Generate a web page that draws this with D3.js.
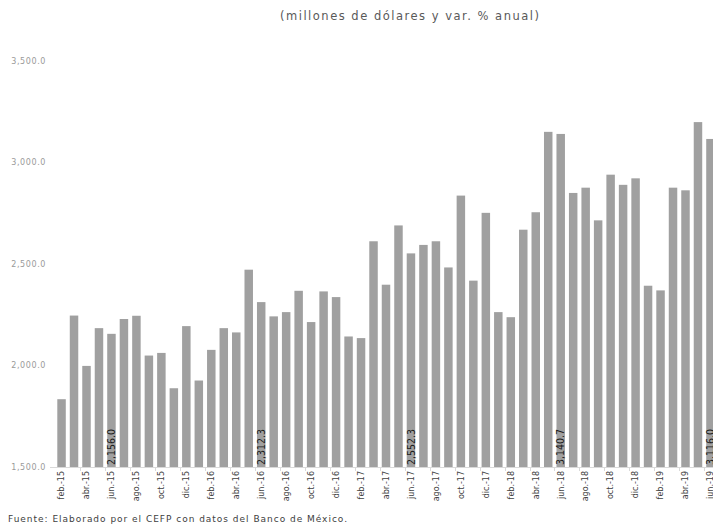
<!DOCTYPE html>
<html><head><meta charset="utf-8">
<script src="https://cdn.jsdelivr.net/npm/d3@7"></script>
<style>body{margin:0;background:#fff}svg{display:block}</style>
</head><body>
<svg id="c" width="713" height="527"></svg>
<script>
const months = ["feb.-15","mar.-15","abr.-15","may.-15","jun.-15","jul.-15","ago.-15","sep.-15","oct.-15","nov.-15","dic.-15",
"ene.-16","feb.-16","mar.-16","abr.-16","may.-16","jun.-16","jul.-16","ago.-16","sep.-16","oct.-16","nov.-16","dic.-16",
"ene.-17","feb.-17","mar.-17","abr.-17","may.-17","jun.-17","jul.-17","ago.-17","sep.-17","oct.-17","nov.-17","dic.-17",
"ene.-18","feb.-18","mar.-18","abr.-18","may.-18","jun.-18","jul.-18","ago.-18","sep.-18","oct.-18","nov.-18","dic.-18",
"ene.-19","feb.-19","mar.-19","abr.-19","may.-19","jun.-19"];
const values = [1834,2246,1998,2184,2156.0,2229,2245,2049,2062,1888,2194,
1926,2077,2184,2163,2472,2312.3,2242,2263,2368,2214,2365,2337,
2143,2135,2612,2398,2690,2552.3,2594,2612,2483,2837,2418,2752,
2263,2238,2669,2755,3151,3140.7,2850,2876,2715,2940,2890,2922,
2393,2370,2876,2863,3199,3116.0];
const labelled = ["jun.-15","jun.-16","jun.-17","jun.-18","jun.-19"];
const yTicks = [1500,2000,2500,3000,3500];
const title = "(millones de dólares y var. % anual)";
const source = "Fuente: Elaborado por el CEFP con datos del Banco de México.";

const svg = d3.select("#c");
const x = d3.scaleBand().domain(months).range([55.3, 716.7]).paddingInner(0.32).paddingOuter(0.16);
const y = d3.scaleLinear().domain([1500,3500]).range([467,61]);
const fmt = d3.format(",.1f");

svg.append("text").attr("x",280).attr("y",20)
  .attr("textLength",259).attr("lengthAdjust","spacing")
  .attr("font-family","DejaVu Sans").attr("font-size",11.5).attr("fill","#595959").text(title);

// y labels
svg.append("g").selectAll("text").data(yTicks).join("text")
  .attr("x",46).attr("y",d=>y(d)).attr("dy","0.35em").attr("text-anchor","end")
  .attr("letter-spacing",0.6)
  .attr("font-family","DejaVu Sans").attr("font-size",8).attr("fill","#9a9a9a").text(d=>fmt(d));

// bars
svg.append("g").selectAll("rect").data(values).join("rect")
  .attr("x",(d,i)=>x(months[i])).attr("width",x.bandwidth())
  .attr("y",d=>y(d)).attr("height",d=>y(1500)-y(d)).attr("fill","#a0a0a0");

// axis line
svg.append("line").attr("x1",50).attr("x2",713).attr("y1",467.5).attr("y2",467.5).attr("stroke","#d9d9d9");
// ticks every 2 categories
const gap = (x.step()-x.bandwidth())/2;
svg.append("g").selectAll("line").data(months.filter((m,i)=>i%2===0 && i>0)).join("line")
  .attr("x1",d=>Math.round(x(d)-gap)+0.5).attr("x2",d=>Math.round(x(d)-gap)+0.5)
  .attr("y1",467).attr("y2",471).attr("stroke","#d9d9d9");

// x labels
svg.append("g").selectAll("text").data(months.filter((m,i)=>i%2===0)).join("text")
  .attr("transform",d=>`translate(${x(d)+x.bandwidth()/2},471) rotate(-90)`)
  .attr("dy","0.35em").attr("text-anchor","end")
  .attr("font-family","DejaVu Sans").attr("font-size",8).attr("fill","#404040").text(d=>d);

// value labels
svg.append("g").selectAll("text").data(labelled).join("text")
  .attr("transform",d=>`translate(${x(d)+x.bandwidth()/2},465) rotate(-90)`)
  .attr("dy","0.35em").attr("text-anchor","start")
  .attr("font-family","DejaVu Sans Condensed, DejaVu Sans").attr("font-stretch","condensed").attr("font-size",10.5)
  .attr("fill","#1a1a1a").text(d=>fmt(values[months.indexOf(d)]));

svg.append("text").attr("x",8).attr("y",522)
  .attr("textLength",339).attr("lengthAdjust","spacing")
  .attr("font-family","DejaVu Sans").attr("font-size",9).attr("fill","#404040").text(source);
</script>
</body></html>
